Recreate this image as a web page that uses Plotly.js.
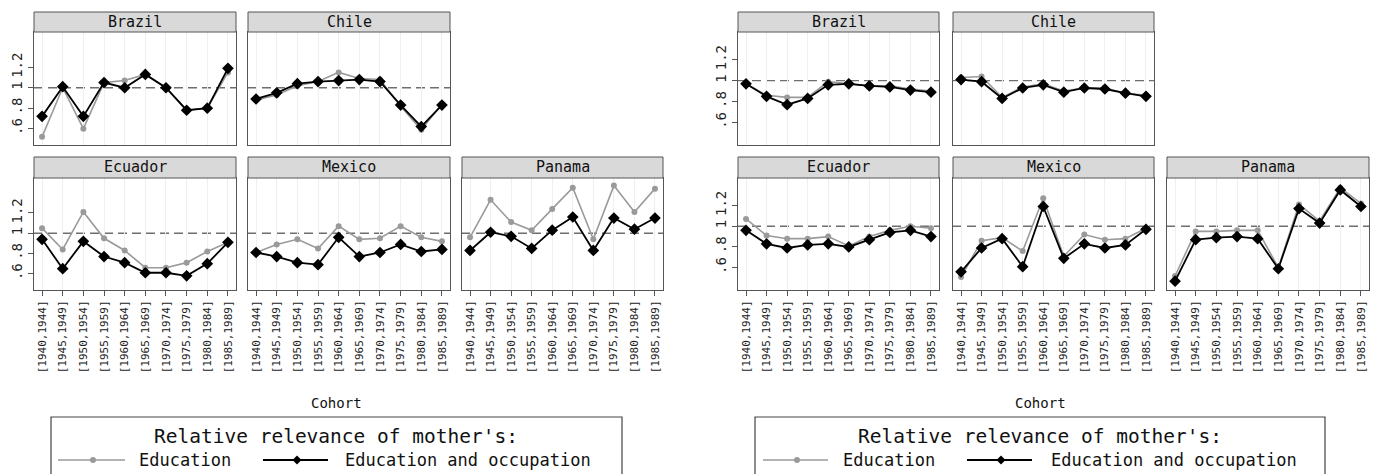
<!DOCTYPE html>
<html>
<head>
<meta charset="utf-8">
<script src="https://cdn.plot.ly/plotly-3.0.1.min.js"></script>
<style>html,body{margin:0;padding:0;background:#fff;}#chart{width:1377px;height:474px;}</style>
</head>
<body>
<div id="chart"></div>
<script>
// ---------- DATA ----------
const cohorts = ['[1940,1944]','[1945,1949]','[1950,1954]','[1955,1959]','[1960,1964]',
                 '[1965,1969]','[1970,1974]','[1975,1979]','[1980,1984]','[1985,1989]'];
const countries = ['Brazil','Chile','Ecuador','Mexico','Panama'];
const yTickVals = [0.6, 0.8, 1, 1.2];
const yTickText = ['.6', '.8', '1', '1.2'];
const legendTitle = "Relative relevance of mother's:";
const seriesNames = ['Education', 'Education and occupation'];
const xTitle = 'Cohort';

// Left figure
const leftBrazilEdu    = [0.52, 1.00, 0.60, 1.05, 1.07, 1.13, 1.00, 0.78, 0.80, 1.15];
const leftBrazilEduOcc = [0.72, 1.01, 0.72, 1.05, 1.00, 1.13, 1.00, 0.78, 0.80, 1.19];
const leftChileEdu     = [0.88, 0.93, 1.02, 1.06, 1.15, 1.09, 1.08, 0.82, 0.59, 0.84];
const leftChileEduOcc  = [0.89, 0.95, 1.04, 1.06, 1.07, 1.08, 1.06, 0.83, 0.62, 0.83];
const leftEcuadorEdu    = [1.05, 0.84, 1.21, 0.95, 0.83, 0.66, 0.66, 0.71, 0.82, 0.91];
const leftEcuadorEduOcc = [0.94, 0.65, 0.92, 0.77, 0.71, 0.61, 0.61, 0.58, 0.70, 0.91];
const leftMexicoEdu     = [0.81, 0.89, 0.94, 0.85, 1.07, 0.94, 0.95, 1.07, 0.96, 0.92];
const leftMexicoEduOcc  = [0.81, 0.77, 0.71, 0.69, 0.96, 0.77, 0.81, 0.89, 0.82, 0.84];
const leftPanamaEdu     = [0.96, 1.33, 1.11, 1.03, 1.24, 1.45, 0.94, 1.47, 1.21, 1.44];
const leftPanamaEduOcc  = [0.83, 1.01, 0.97, 0.85, 1.03, 1.16, 0.83, 1.15, 1.04, 1.15];

// Right figure
const rightBrazilEdu    = [0.97, 0.86, 0.84, 0.84, 0.99, 0.97, 0.95, 0.95, 0.92, 0.90];
const rightBrazilEduOcc = [0.97, 0.85, 0.77, 0.83, 0.96, 0.97, 0.95, 0.94, 0.91, 0.89];
const rightChileEdu     = [1.03, 1.04, 0.84, 0.94, 0.97, 0.90, 0.93, 0.93, 0.88, 0.86];
const rightChileEduOcc  = [1.01, 0.99, 0.83, 0.93, 0.96, 0.89, 0.93, 0.92, 0.88, 0.85];
const rightEcuadorEdu    = [1.07, 0.91, 0.88, 0.88, 0.90, 0.81, 0.90, 0.96, 1.00, 0.98];
const rightEcuadorEduOcc = [0.96, 0.83, 0.79, 0.82, 0.83, 0.80, 0.87, 0.94, 0.96, 0.90];
const rightMexicoEdu     = [0.51, 0.86, 0.89, 0.76, 1.27, 0.71, 0.92, 0.87, 0.88, 0.98];
const rightMexicoEduOcc  = [0.56, 0.79, 0.88, 0.61, 1.19, 0.69, 0.83, 0.79, 0.82, 0.97];
const rightPanamaEdu     = [0.52, 0.95, 0.95, 0.96, 0.96, 0.60, 1.21, 1.05, 1.37, 1.22];
const rightPanamaEduOcc  = [0.47, 0.87, 0.89, 0.90, 0.88, 0.59, 1.17, 1.03, 1.35, 1.19];

const figures = [
  {edu: [leftBrazilEdu, leftChileEdu, leftEcuadorEdu, leftMexicoEdu, leftPanamaEdu],
   occ: [leftBrazilEduOcc, leftChileEduOcc, leftEcuadorEduOcc, leftMexicoEduOcc, leftPanamaEduOcc]},
  {edu: [rightBrazilEdu, rightChileEdu, rightEcuadorEdu, rightMexicoEdu, rightPanamaEdu],
   occ: [rightBrazilEduOcc, rightChileEduOcc, rightEcuadorEduOcc, rightMexicoEduOcc, rightPanamaEduOcc]}
];

// ---------- LAYOUT GEOMETRY (pixels) ----------
const W = 1377, H = 474;
const px = x => x / W;
const py = y => 1 - y / H;
const figCols = [
  [[34,236],[248,450],[462,663]],
  [[738,939],[953,1154],[1167,1369]]
];
const rowsPx = [[32,145],[178,290]];
const stripPx = [[12,32],[157,178]];
const panelPos = [[0,0],[0,1],[1,0],[1,1],[1,2]]; // [row, col] for each country
const yRanges = [[0.44, 1.545], [0.385, 1.465]];
const MONO = 'DejaVu Sans Mono, Liberation Mono, monospace';

const data = [];
const layout = {
  width: W, height: H,
  margin: {l:0, r:0, t:0, b:0},
  paper_bgcolor: '#ffffff', plot_bgcolor: '#ffffff',
  showlegend: false,
  font: {family: MONO, color: '#111'},
  shapes: [], annotations: []
};

let axn = 0;
figures.forEach((fig, f) => {
  countries.forEach((c, k) => {
    axn++;
    const xa = axn === 1 ? 'xaxis' : 'xaxis' + axn;
    const ya = axn === 1 ? 'yaxis' : 'yaxis' + axn;
    const xr = axn === 1 ? 'x' : 'x' + axn;
    const yr = axn === 1 ? 'y' : 'y' + axn;
    const [row, col] = panelPos[k];
    const cx = figCols[f][col];
    const ry = rowsPx[row];
    layout[xa] = {
      domain: [px(cx[0]), px(cx[1])],
      anchor: yr,
      type: 'category',
      categoryorder: 'array', categoryarray: cohorts,
      range: [-0.39, 9.39],
      showgrid: true, gridcolor: '#efefef', gridwidth: 1,
      zeroline: false,
      showline: true, mirror: true, linecolor: '#555', linewidth: 1,
      ticks: row === 1 ? 'outside' : '', ticklen: 5, tickcolor: '#555',
      showticklabels: row === 1,
      tickangle: -90,
      tickfont: {family: MONO, size: 11, color: '#222'}
    };
    layout[ya] = {
      domain: [py(ry[1]), py(ry[0])],
      anchor: xr,
      range: yRanges[f],
      tickvals: yTickVals, ticktext: yTickText,
      showgrid: false, zeroline: false,
      showline: true, mirror: true, linecolor: '#555', linewidth: 1,
      ticks: col === 0 ? 'outside' : '', ticklen: 5, tickcolor: '#555',
      showticklabels: col === 0,
      tickangle: -90,
      tickfont: {family: MONO, size: 14, color: '#222'}
    };
    // reference line at 1
    layout.shapes.push({type:'line', xref: xr + ' domain', yref: yr, x0:0, x1:1, y0:1, y1:1,
      line:{color:'#6e6e6e', width:1.4, dash:'9px,5px'}, layer:'below'});
    // strip
    const sy = stripPx[row];
    layout.shapes.push({type:'rect', xref:'paper', yref:'paper',
      x0: px(cx[0]), x1: px(cx[1]), y0: py(sy[1]), y1: py(sy[0]),
      fillcolor:'#d9d9d9', line:{color:'#555', width:1}});
    layout.annotations.push({xref:'paper', yref:'paper', x: px((cx[0]+cx[1])/2), y: py((sy[0]+sy[1])/2),
      text: c, showarrow:false, xanchor:'center', yanchor:'middle',
      font:{family: MONO, size: 15, color:'#111'}});
    // traces
    data.push({type:'scatter', mode:'lines+markers', x: cohorts, y: fig.edu[k], xaxis: xr, yaxis: yr,
      name: seriesNames[0], line:{color:'#9a9a9a', width:1.6},
      marker:{symbol:'circle', size:6, color:'#9a9a9a'}});
    data.push({type:'scatter', mode:'lines+markers', x: cohorts, y: fig.occ[k], xaxis: xr, yaxis: yr,
      name: seriesNames[1], line:{color:'#000', width:1.8},
      marker:{symbol:'diamond', size:9, color:'#000'}});
  });
});

// ---------- Titles and legends (drawn in paper space) ----------
const figCenters = [336, 1040];
const legendBoxes = [[51,622],[755,1325]];
const legendItems = [
  {g:[58,125,93], gt:137, b:[263,328,297], bt:343},
  {g:[763,828,797], gt:841, b:[967,1032,1001], bt:1049}
];
figCenters.forEach((cxp, f) => {
  layout.annotations.push({xref:'paper', yref:'paper', x: px(cxp), y: py(403),
    text: xTitle, showarrow:false, xanchor:'center', yanchor:'middle',
    font:{family: MONO, size: 14, color:'#111'}});
  const lb = legendBoxes[f];
  layout.shapes.push({type:'rect', xref:'paper', yref:'paper',
    x0: px(lb[0]), x1: px(lb[1]), y0: py(490), y1: py(417),
    fillcolor:'rgba(0,0,0,0)', line:{color:'#444', width:1.2}});
  layout.annotations.push({xref:'paper', yref:'paper', x: px(cxp), y: py(436),
    text: legendTitle, showarrow:false, xanchor:'center', yanchor:'middle',
    font:{family: MONO, size: 19.5, color:'#111'}});
  const it = legendItems[f];
  const ly = 460;
  // gray sample
  layout.shapes.push({type:'line', xref:'paper', yref:'paper', x0: px(it.g[0]), x1: px(it.g[1]),
    y0: py(ly), y1: py(ly), line:{color:'#9a9a9a', width:1.6}});
  layout.shapes.push({type:'circle', xref:'paper', yref:'paper',
    x0: px(it.g[2]-3), x1: px(it.g[2]+3), y0: py(ly+3), y1: py(ly-3),
    fillcolor:'#9a9a9a', line:{color:'#9a9a9a', width:0}});
  layout.annotations.push({xref:'paper', yref:'paper', x: px(it.gt), y: py(ly),
    text: seriesNames[0], showarrow:false, xanchor:'left', yanchor:'middle',
    font:{family: MONO, size: 17, color:'#111'}});
  // black sample
  layout.shapes.push({type:'line', xref:'paper', yref:'paper', x0: px(it.b[0]), x1: px(it.b[1]),
    y0: py(ly), y1: py(ly), line:{color:'#000', width:1.8}});
  const d = 4.5, mx = it.b[2];
  layout.shapes.push({type:'path', xref:'paper', yref:'paper',
    path: `M ${px(mx)} ${py(ly-d)} L ${px(mx+d)} ${py(ly)} L ${px(mx)} ${py(ly+d)} L ${px(mx-d)} ${py(ly)} Z`,
    fillcolor:'#000', line:{color:'#000', width:0}});
  layout.annotations.push({xref:'paper', yref:'paper', x: px(it.bt), y: py(ly),
    text: seriesNames[1], showarrow:false, xanchor:'left', yanchor:'middle',
    font:{family: MONO, size: 17, color:'#111'}});
});

Plotly.newPlot('chart', data, layout, {displayModeBar:false, staticPlot:true});
</script>
</body>
</html>
